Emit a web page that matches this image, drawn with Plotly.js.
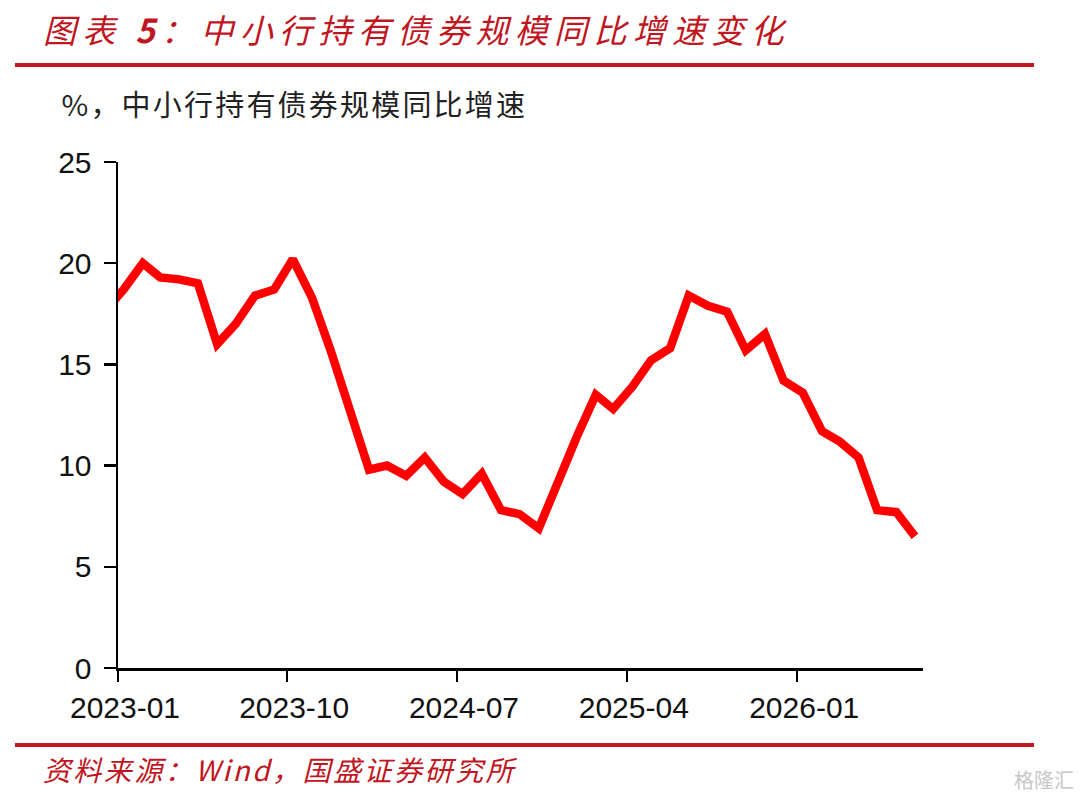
<!DOCTYPE html>
<html>
<head>
<meta charset="utf-8">
<script src="https://cdn.plot.ly/plotly-3.0.1.min.js"></script>
<style>
  html, body { margin: 0; padding: 0; background: #fff; }
  #chart { width: 1080px; height: 799px; }
  .gtitle { letter-spacing: 6.3px; }
  .annotation[data-index="0"] text { letter-spacing: 2.2px; }
  .annotation[data-index="1"] text { letter-spacing: 2.5px; }
</style>
</head>
<body>
<div id="chart"></div>
<script>
// Monthly observations (plotted mid-month); first one falls before the axis start and is clipped
const months = [
  '2022-12-10',
  '2023-01-10','2023-02-10','2023-03-10','2023-04-10','2023-05-10','2023-06-10',
  '2023-07-10','2023-08-10','2023-09-10','2023-10-10','2023-11-10','2023-12-10',
  '2024-01-10','2024-02-10','2024-03-10','2024-04-10','2024-05-10','2024-06-10',
  '2024-07-10','2024-08-10','2024-09-10','2024-10-10','2024-11-10','2024-12-10',
  '2025-01-10','2025-02-10','2025-03-10','2025-04-10','2025-05-10','2025-06-10',
  '2025-07-10','2025-08-10','2025-09-10','2025-10-10','2025-11-10','2025-12-10',
  '2026-01-10','2026-02-10','2026-03-10','2026-04-10','2026-05-10','2026-06-10',
  '2026-07-10'
];
const growth = [
  17.6,
  18.7, 20.0, 19.3, 19.2, 19.0, 16.0,
  17.0, 18.4, 18.7, 20.2, 18.3, 15.7,
  12.7, 9.8, 10.0, 9.5, 10.4, 9.2,
  8.6, 9.6, 7.8, 7.6, 6.9, 9.2,
  11.4, 13.5, 12.8, 13.9, 15.2, 15.8,
  18.4, 17.9, 17.6, 15.7, 16.5, 14.2,
  13.6, 11.7, 11.2, 10.4, 7.8, 7.7,
  6.5
];
const xTickVals = ['2023-01-01','2023-10-01','2024-07-01','2025-04-01','2026-01-01'];
const xTickText = ['2023-01','2023-10','2024-07','2025-04','2026-01'];
const yTickVals = [0, 5, 10, 15, 20, 25];

const titleText = '图表 <b>5</b>：中小行持有债券规模同比增速变化';
const unitText = '%，中小行持有债券规模同比增速';
const sourceText = '资料来源：Wind，国盛证券研究所';
const watermarkText = '格隆汇';

const RED = '#c0161f';
const axisFont = { family: 'Liberation Sans, Arial, sans-serif', size: 30, color: '#111' };

// plot-area geometry in pixels (used to place header/footer decorations)
const PL = 118, PR = 923, PT = 162, PB = 668;
const px2x = v => (v - PL) / (PR - PL);
const px2y = v => (PB - v) / (PB - PT);

const trace = {
  x: months,
  y: growth,
  type: 'scatter',
  mode: 'lines',
  line: { color: '#ff0000', width: 8.5 },
  hoverinfo: 'skip'
};

const layout = {
  width: 1080,
  height: 799,
  paper_bgcolor: '#fff',
  plot_bgcolor: '#fff',
  showlegend: false,
  margin: { l: PL, r: 1080 - PR, t: PT, b: 799 - PB, pad: 0 },
  title: {
    text: titleText,
    font: { family: 'Noto Sans CJK SC, sans-serif', size: 33, color: RED, style: 'italic' },
    xref: 'container', yref: 'container',
    x: 43 / 1080, xanchor: 'left',
    y: 1 - 31 / 799, yanchor: 'middle'
  },
  xaxis: {
    type: 'date',
    range: ['2023-01-01', '2026-07-23'],
    tickmode: 'array',
    tickvals: xTickVals,
    ticktext: xTickText,
    ticks: 'outside',
    ticklen: 11,
    tickwidth: 2.5,
    tickcolor: '#000',
    showline: true,
    linecolor: '#000',
    linewidth: 2.5,
    showgrid: false,
    zeroline: false,
    tickfont: axisFont,
    ticklabelshift: 7,
    fixedrange: true
  },
  yaxis: {
    range: [0, 25],
    tickmode: 'array',
    tickvals: yTickVals,
    ticks: 'outside',
    ticklen: 12,
    tickwidth: 2.5,
    tickcolor: '#000',
    showline: true,
    linecolor: '#000',
    linewidth: 2.5,
    showgrid: false,
    zeroline: false,
    tickfont: axisFont,
    ticklabelstandoff: 6,
    fixedrange: true
  },
  shapes: [
    { type: 'line', xref: 'paper', yref: 'paper',
      x0: px2x(15), x1: px2x(1034), y0: px2y(65), y1: px2y(65),
      line: { color: RED, width: 4 } },
    { type: 'line', xref: 'paper', yref: 'paper',
      x0: px2x(15), x1: px2x(1034), y0: px2y(745), y1: px2y(745),
      line: { color: RED, width: 4 } }
  ],
  annotations: [
    { text: unitText, showarrow: false,
      xref: 'paper', yref: 'paper',
      x: px2x(76), xanchor: 'left',
      y: px2y(103), yanchor: 'middle',
      font: { family: 'Noto Sans CJK SC, sans-serif', size: 29, color: '#222' } },
    { text: sourceText, showarrow: false,
      xref: 'paper', yref: 'paper',
      x: px2x(62), xanchor: 'left',
      y: px2y(769), yanchor: 'middle',
      font: { family: 'Noto Sans CJK SC, sans-serif', size: 28, color: RED, style: 'italic' } },
    { text: watermarkText, showarrow: false,
      xref: 'paper', yref: 'paper',
      x: px2x(1076), xanchor: 'right',
      y: px2y(779), yanchor: 'middle',
      font: { family: 'Noto Sans CJK SC, sans-serif', size: 20, color: '#c8c8c8' } }
  ]
};

Plotly.newPlot('chart', [trace], layout, { displayModeBar: false, staticPlot: true });
</script>
</body>
</html>
